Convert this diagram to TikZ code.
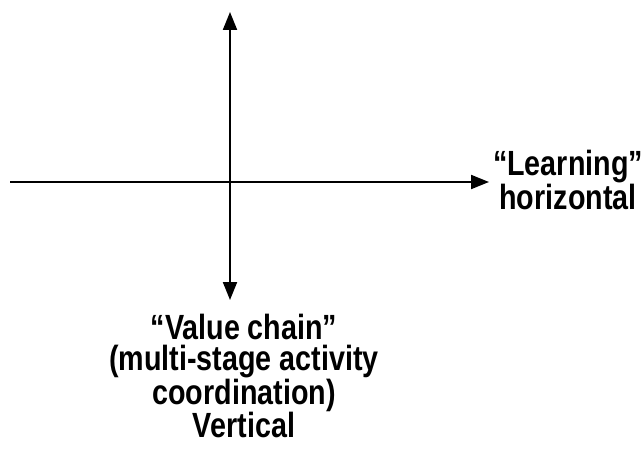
\documentclass[tikz,border=0pt]{standalone}
\usepackage{fontspec}
\setmainfont[FakeStretch=0.82]{Liberation Sans}
\usetikzlibrary{arrows.meta}
\begin{document}
\begin{tikzpicture}[x=1pt,y=-1pt,
  axis/.style={line width=2pt,-{Triangle[length=18pt,width=14pt]}},
  label/.style={font=\bfseries\fontsize{35}{31}\selectfont,align=center,inner sep=0pt}]
  \useasboundingbox (0,0) rectangle (644,452);
  % axes
  \coordinate (o) at (230,182);
  \coordinate (top) at (230,12);
  \coordinate (bot) at (230,300);
  \coordinate (left) at (10,182);
  \coordinate (right) at (489,182);
  \draw[axis,{Triangle[length=18pt,width=14pt]}-{Triangle[length=18pt,width=14pt]}] (top) -- (bot);
  \draw[axis] (left) -- (right);
  % axis labels
  \node[label,font=\bfseries\fontsize{35}{34}\selectfont] (learn) at (568,180) {“Learning”\\horizontal};
  \node[label] (value) at (244,376) {“Value chain”\\(multi-stage activity\\coordination)\\Vertical};
\end{tikzpicture}
\end{document}
